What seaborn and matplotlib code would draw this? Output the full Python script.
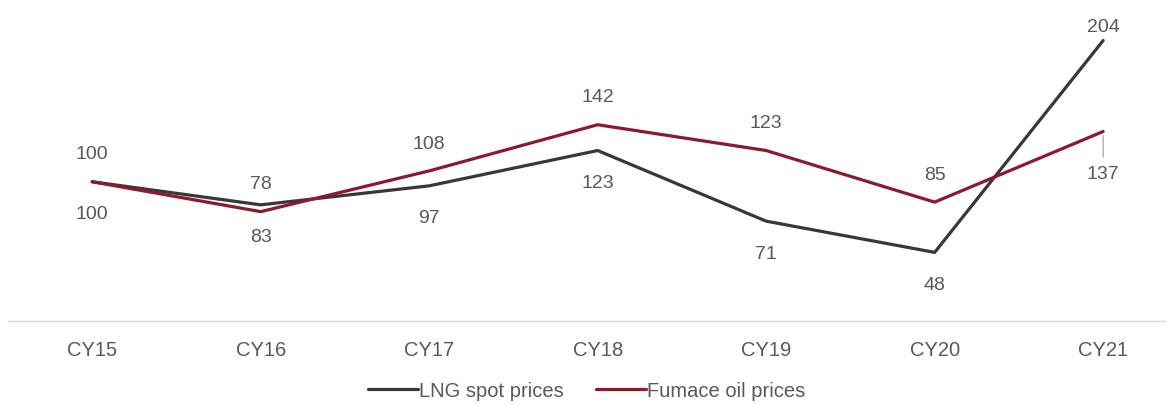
import pandas as pd
import matplotlib
matplotlib.use("Agg")
import matplotlib.pyplot as plt
import seaborn as sns

years = ["CY15", "CY16", "CY17", "CY18", "CY19", "CY20", "CY21"]
lng = [100, 83, 97, 123, 71, 48, 204]
furnace = [100, 78, 108, 142, 123, 85, 137]
series_names = ["LNG spot prices", "Fumace oil prices"]

df = pd.DataFrame({
    "year": years * 2,
    "value": lng + furnace,
    "series": [series_names[0]] * len(years) + [series_names[1]] * len(years),
})

sns.set_style("white")
plt.rcParams["font.family"] = ["Liberation Sans", "DejaVu Sans"]
txt = "#595959"
palette = {series_names[0]: "#383838", series_names[1]: "#8b1a2c"}

fig = plt.figure(figsize=(11.71, 4.06), dpi=100)
ax = fig.add_axes([0.007, 0.207, 0.988, 0.781])
sns.lineplot(data=df, x="year", y="value", hue="series", palette=palette,
             linewidth=2.3, sort=False, ax=ax, legend=True)

ax.set_xlim(-0.4985, 6.368)
ax.set_ylim(-2.5, 231)

# value labels
for i, (a, b) in enumerate(zip(lng, furnace)):
    last = i == len(years) - 1
    # LNG label below (above for last point)
    ax.annotate(str(a), (i, a), xytext=(0, 10 if last else -23), textcoords="offset points",
                ha="center", va="center", fontsize=14, color=txt)
    if last:
        ax.annotate(str(b), (i, b), xytext=(0, -30), textcoords="offset points",
                    ha="center", va="center", fontsize=14, color=txt,
                    arrowprops=dict(arrowstyle="-", color="#9a9a9a", lw=0.8,
                                    shrinkA=3, shrinkB=3))
    else:
        ax.annotate(str(b), (i, b), xytext=(0, 20), textcoords="offset points",
                    ha="center", va="center", fontsize=14, color=txt)

for s in ["left", "right", "top"]:
    ax.spines[s].set_visible(False)
ax.spines["bottom"].set_color("#d9d9d9")
ax.spines["bottom"].set_linewidth(1.0)
ax.set_yticks([])
ax.set_xlabel("")
ax.set_ylabel("")
ax.tick_params(axis="x", length=0, pad=14, labelsize=14.5, labelcolor=txt)

ax.legend(loc="center", bbox_to_anchor=(0.5, -0.22), ncol=2, frameon=False,
          fontsize=14.5, labelcolor=txt, handlelength=2.5, handletextpad=0.05,
          columnspacing=1.6)

fig.savefig("out.png", dpi=100)
